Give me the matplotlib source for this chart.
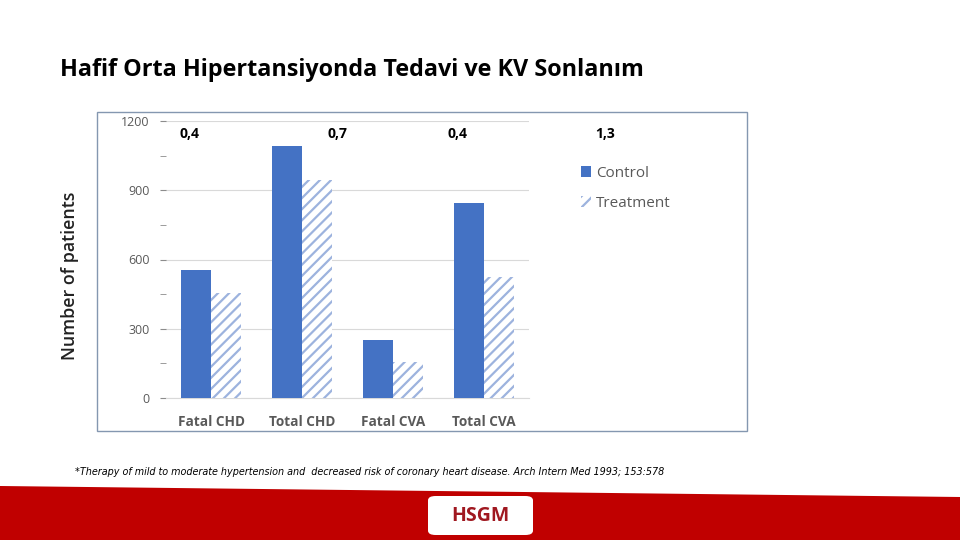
import matplotlib.pyplot as plt
from matplotlib.patches import Rectangle, Polygon, FancyBboxPatch
import numpy as np

categories = ['Fatal CHD', 'Total CHD', 'Fatal CVA', 'Total CVA']
control = [556, 1093, 253, 846]
treatment = [456, 944, 155, 523]
rr_labels = ['0,4', '0,7', '0,4', '1,3']
yticks = [0, 300, 600, 900, 1200]

title = 'Hafif Orta Hipertansiyonda Tedavi ve KV Sonlanım'
footnote = ('*Therapy of mild to moderate hypertension and  decreased risk of '
            'coronary heart disease. Arch Intern Med 1993; 153:578')

plt.rcParams['font.family'] = ['Open Sans', 'DejaVu Sans']
plt.rcParams['hatch.linewidth'] = 1.6

blue = '#4472C4'
light = '#9DB3DE'
grey = '#595959'

fig = plt.figure(figsize=(9.6, 5.4), dpi=100)
W, H = 960, 540

# outer chart frame
fig.patches.append(Rectangle((97 / W, 1 - 431 / H), 650 / W, 319 / H,
                             transform=fig.transFigure, fill=False,
                             edgecolor='#8497B0', linewidth=1))

ax = fig.add_axes([166 / W, 1 - 398 / H, 363 / W, 277 / H])
x = np.arange(len(categories))
w = 0.33
ax.bar(x - w / 2, control, w, color=blue, label='Control', zorder=3)
ax.bar(x + w / 2, treatment, w, facecolor='white', edgecolor=light,
       hatch='///', linewidth=0, label='Treatment', zorder=3)

ax.set_xlim(-0.5, 3.5)
ax.set_ylim(0, 1200)
ax.set_yticks(yticks)
ax.set_yticks([150, 450, 750, 1050], minor=True)
ax.tick_params(axis='y', which='both', length=4, color='#8C8C8C', colors=grey,
               labelsize=9, pad=8)
ax.tick_params(axis='y', which='both', color='#8C8C8C')
ax.tick_params(axis='x', length=0, pad=12)
ax.set_xticks(x)
ax.set_xticklabels(categories, fontsize=9.8, fontweight='bold', color=grey)
ax.grid(axis='y', color='#D9D9D9', linewidth=0.8, zorder=0)
for s in ['top', 'right', 'left']:
    ax.spines[s].set_visible(False)
ax.spines['bottom'].set_color('#D9D9D9')

leg = ax.legend(loc='upper left', bbox_to_anchor=(567 / W, 1 - 152 / H),
                bbox_transform=fig.transFigure, frameon=False, fontsize=11,
                handlelength=0.7, handleheight=0.7, handletextpad=0.3,
                labelspacing=1.0, labelcolor=grey)

rr_x = [189, 338, 457, 605]
for lab, px in zip(rr_labels, rr_x):
    fig.text(px / W, 1 - 134 / H, lab, fontsize=10, fontweight='bold',
             ha='center', va='center', color='black')

fig.text(70 / W, 1 - 276 / H, 'Number of patients', rotation=90,
         fontsize=12.8, fontweight='semibold', ha='center', va='center',
         color='#222222')

fig.text(60 / W, 1 - 70 / H, title, fontsize=16.8, fontweight='bold',
         ha='left', va='center', color='black')

fig.text(75 / W, 1 - 472 / H, footnote, fontsize=6.9, style='italic',
         ha='left', va='center', color='black', family='Liberation Sans Narrow')

# red band at the bottom
fig.patches.append(Polygon([(0, 1 - 486 / H), (1, 1 - 497 / H), (1, 0), (0, 0)],
                           closed=True, transform=fig.transFigure,
                           facecolor='#C00000', edgecolor='none'))
fig.patches.append(FancyBboxPatch((428 / W, 1 - 535 / H), 105 / W, 39 / H,
                                  boxstyle='round,pad=0,rounding_size=0.008',
                                  transform=fig.transFigure, facecolor='white',
                                  edgecolor='none'))
fig.text(480 / W, 1 - 516 / H, 'HSGM', fontsize=14, fontweight='bold',
         ha='center', va='center', color='#A01820')

fig.savefig('out.png', dpi=100)
